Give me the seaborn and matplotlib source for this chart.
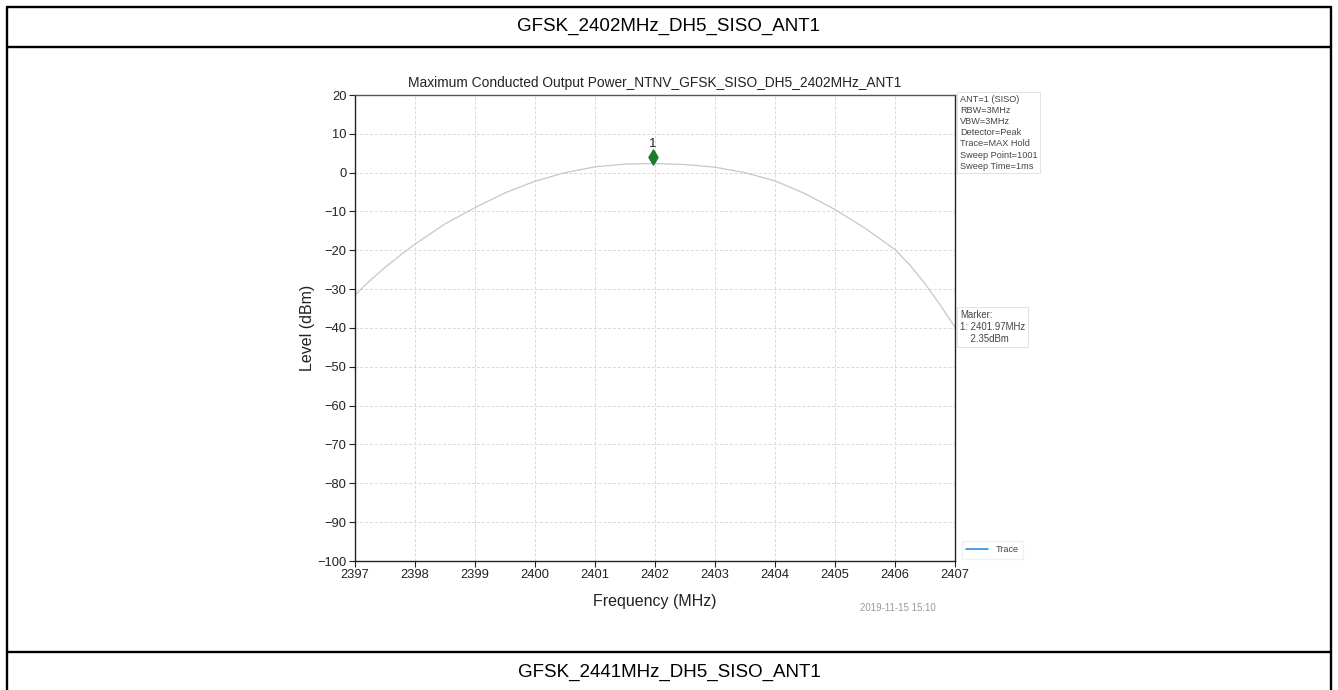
import matplotlib
matplotlib.use("Agg")
import matplotlib.pyplot as plt
import matplotlib.transforms as mtransforms
from matplotlib.lines import Line2D
import seaborn as sns
import pandas as pd

# ---- data ----
freq_mhz = [2397.0, 2397.25, 2397.5, 2397.75, 2398.0, 2398.5, 2399.0, 2399.5,
            2400.0, 2400.5, 2401.0, 2401.5, 2402.0, 2402.5, 2403.0, 2403.5,
            2404.0, 2404.5, 2405.0, 2405.5, 2406.0, 2406.25, 2406.5, 2406.75,
            2407.0]
level_dbm = [-31.5, -27.8, -24.4, -21.3, -18.4, -13.2, -9.0, -5.2,
             -2.2, 0.0, 1.5, 2.2, 2.35, 2.1, 1.4, 0.0,
             -2.1, -5.4, -9.5, -14.3, -19.8, -23.8, -28.6, -34.0,
             -39.8]
marker_freq = [2401.97]
marker_level = [2.35]
marker_labels = ["1"]
x_ticks = list(range(2397, 2408))
y_ticks = list(range(-100, 21, 10))
header_top = "GFSK_2402MHz_DH5_SISO_ANT1"
header_bottom = "GFSK_2441MHz_DH5_SISO_ANT1"
chart_title = "Maximum Conducted Output Power_NTNV_GFSK_SISO_DH5_2402MHz_ANT1"
info_text = ("ANT=1 (SISO)\nRBW=3MHz\nVBW=3MHz\nDetector=Peak\n"
             "Trace=MAX Hold\nSweep Point=1001\nSweep Time=1ms")
marker_text = "Marker:\n1: 2401.97MHz\n    2.35dBm"
timestamp = "2019-11-15 15:10"

sns.set_theme(style="white")
plt.rcParams['font.family'] = ['Liberation Sans', 'DejaVu Sans']

W, H = 1338, 690
fig = plt.figure(figsize=(W / 100, H / 100), dpi=100)
fig.patch.set_facecolor("white")


def fx(px):
    return px / W


def fy(py):
    return 1 - py / H


# ---- table frame ----
frame_kw = dict(transform=fig.transFigure, color="black", lw=1.7)
fig.add_artist(Line2D([fx(7), fx(1331)], [fy(7), fy(7)], **frame_kw))
fig.add_artist(Line2D([fx(7), fx(1331)], [fy(47), fy(47)], **frame_kw))
fig.add_artist(Line2D([fx(7), fx(1331)], [fy(652), fy(652)], **frame_kw))
fig.add_artist(Line2D([fx(7), fx(7)], [fy(7), fy(690)], **frame_kw))
fig.add_artist(Line2D([fx(1331), fx(1331)], [fy(7), fy(690)], **frame_kw))
fig.text(0.5, fy(26), header_top, ha="center", va="center", fontsize=13.5, color="black")
fig.text(0.5, fy(672), header_bottom, ha="center", va="center", fontsize=13.5, color="black")

# ---- axes ----
ax = fig.add_axes([fx(355), fy(561), fx(955) - fx(355), fy(95) - fy(561)])
df = pd.DataFrame({"Frequency (MHz)": freq_mhz, "Level (dBm)": level_dbm})
sns.lineplot(data=df, x="Frequency (MHz)", y="Level (dBm)", ax=ax,
             color="#c2c8cc", lw=0.9, label="Trace", legend=False)

offset = mtransforms.offset_copy(ax.transData, fig=fig, x=0, y=5, units="points")
mdf = pd.DataFrame({"f": marker_freq, "l": marker_level})
ax.scatter(mdf["f"], mdf["l"], marker="d", s=60, color="#1b7a2b",
           edgecolor="#1b7a2b", transform=offset, zorder=5)
for f, l, t in zip(marker_freq, marker_level, marker_labels):
    ax.annotate(t, (f, l), xytext=(0, 9.5), textcoords="offset points",
                ha="center", va="bottom", fontsize=9.5, color="#222222")

ax.set_xlim(2397, 2407)
ax.set_ylim(-100, 20)
ax.set_xticks(x_ticks)
ax.set_yticks(y_ticks)
ax.set_xticklabels([str(v) for v in x_ticks])
ax.tick_params(axis="both", labelsize=9.3, length=4, width=0.8, direction="out",
               colors="#222222", left=True, bottom=True, pad=2)
ax.grid(True, ls=(0, (3, 2)), color="#d9d9d9", lw=0.7)
for s in ax.spines.values():
    s.set_color("#222222")
    s.set_linewidth(1.0)
ax.spines["top"].set_color("#555555")
ax.set_xlabel("Frequency (MHz)", fontsize=11.5, labelpad=9, color="#222222")
ax.set_ylabel("Level (dBm)", fontsize=11.5, labelpad=2, color="#222222")
ax.set_title(chart_title, fontsize=9.9, pad=6, color="#222222")

# ---- side boxes ----
box_kw = dict(boxstyle="square,pad=0.3", fc="white", ec="#dddddd", lw=0.6)
fig.text(fx(960), fy(95), info_text, ha="left", va="top", fontsize=6.6,
         color="#444444", linespacing=1.3, bbox=box_kw)
fig.text(fx(960), fy(310), marker_text, ha="left", va="top", fontsize=6.9,
         color="#444444", linespacing=1.25, bbox=box_kw)

# legend
handles = [Line2D([], [], color="#2a8ee8", lw=1.2)]
fig.legend(handles, ["Trace"], loc="center left",
           bbox_to_anchor=(fx(957), fy(550)), fontsize=6.6, frameon=True,
           handlelength=2.4, borderpad=0.5, fancybox=False,
           edgecolor="#eeeeee", labelcolor="#444444")

fig.text(fx(898), fy(608), timestamp, ha="center", va="center", fontsize=7,
         color="#999999")

fig.savefig("out.png", dpi=100, facecolor="white")
